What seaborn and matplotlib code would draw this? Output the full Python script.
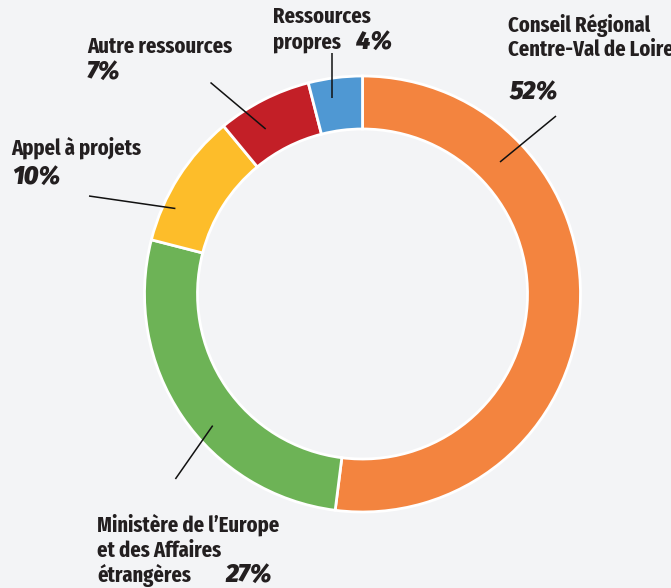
import matplotlib
matplotlib.use("Agg")
import matplotlib.pyplot as plt
import seaborn as sns

# ---- data ----
categories = ["Conseil Régional\nCentre-Val de Loire",
              "Ministère de l’Europe\net des Affaires\nétrangères",
              "Appel à projets",
              "Autre ressources",
              "Ressources\npropres"]
values = [52, 27, 10, 7, 4]
colors = ["#F3843F", "#6DB356", "#FDBD2A", "#C31F27", "#4F98D3"]

W, H = 671, 588
BG = "#F3F4F6"
TXT = "#231F20"

sns.set_theme(style="white")
plt.rcParams["font.family"] = ["Fira Sans Extra Condensed", "DejaVu Sans"]

fig = plt.figure(figsize=(W / 100, H / 100), dpi=100, facecolor=BG)
ax = fig.add_axes([0, 0, 1, 1])
ax.set_facecolor(BG)

def Y(y):
    return H - y

cx, cy, R, ring = 362.5, 294, 218, 53
ax.pie(values, colors=colors, startangle=90, counterclock=False,
       radius=R, center=(cx, Y(cy)), frame=True,
       wedgeprops=dict(width=ring, edgecolor="white", linewidth=2.0))
ax.set_xlim(0, W)
ax.set_ylim(0, H)
ax.set_aspect("equal")
ax.axis("off")

lab_kw = dict(fontsize=16.1, fontweight="bold", color=TXT, va="baseline", ha="left",
              family=["Fira Sans Extra Condensed", "DejaVu Sans"])
pct_kw = dict(fontsize=18, fontweight="black", style="italic", color=TXT,
              va="baseline", ha="left", family=["Fira Sans", "DejaVu Sans"])

# label layout: (x, baselines of each line, pct x, pct baseline)
layout = [
    (508.5, [31.7, 55.5], 510, 99),
    (97, [531.7, 556.7, 581.7], 225, 581.7),
    (11.5, [155], 12, 184),
    (87, [53.2], 87, 78.7),
    (273, [23.3, 48.7], 356.5, 48.7),
]
for cat, val, (x, bls, px, pb) in zip(categories, values, layout):
    for line, b in zip(cat.split("\n"), bls):
        ax.text(x, Y(b), line, **lab_kw)
    ax.text(px, Y(pb), f"{val}%", **pct_kw)

# leader lines (annotation guides)
leaders = [
    ((556, 116), (500, 162)),
    ((175.4, 479), (212.7, 425.6)),
    ((89, 196), (175.4, 208.5)),
    ((210.5, 82.5), (265.7, 129)),
    ((332, 52.5), (332, 98)),
]
for (x0, y0), (x1, y1) in leaders:
    ax.plot([x0, x1], [Y(y0), Y(y1)], color="#111111", lw=1.1, solid_capstyle="butt")

fig.savefig("out.png", dpi=100, facecolor=BG)
